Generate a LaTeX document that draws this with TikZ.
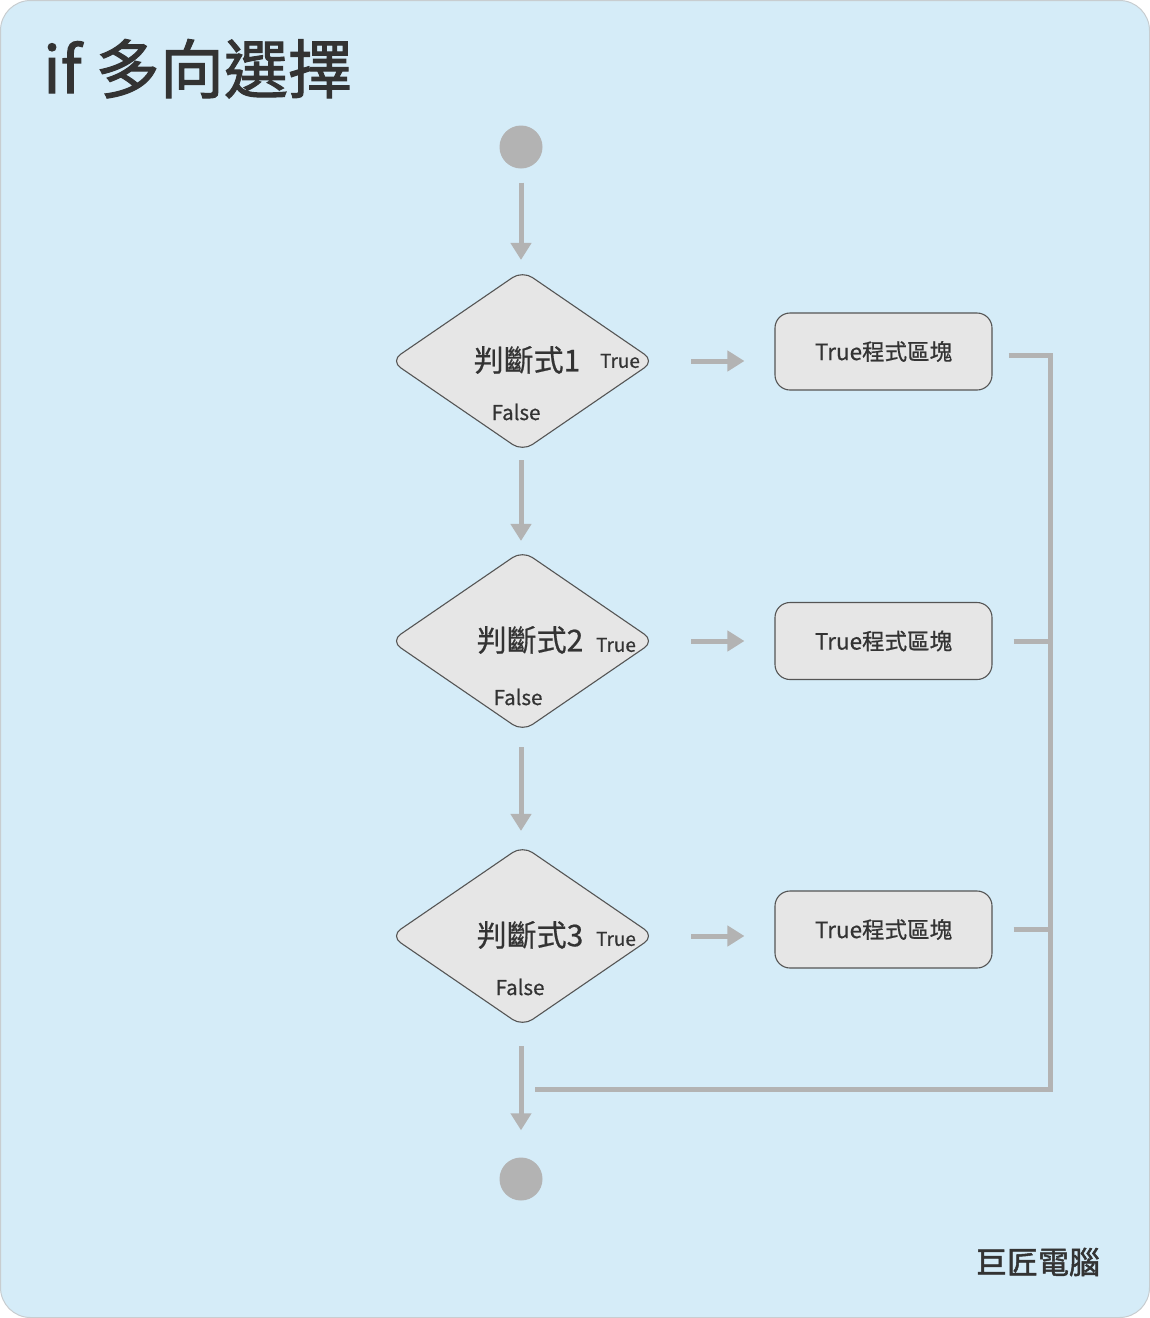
\documentclass[tikz,border=0pt]{standalone}
\usepackage{fontspec}
\setmainfont{Noto Sans CJK TC}[FakeBold=0.6]
\newfontfamily\heavyfont{Noto Sans CJK TC}[FakeBold=1.6]
\usetikzlibrary{shapes.geometric,arrows.meta}
\definecolor{bgblue}{HTML}{D5ECF8}
\definecolor{frame}{HTML}{C8CDD0}
\definecolor{shapefill}{HTML}{E6E6E6}
\definecolor{shapeline}{HTML}{555555}
\definecolor{conn}{HTML}{B3B3B3}
\definecolor{txt}{HTML}{333333}
\begin{document}
\begin{tikzpicture}[x=1pt,y=-1pt,
  dia/.style={diamond,draw=shapeline,fill=shapefill,line width=1.1pt,minimum width=264pt,minimum height=181pt,inner sep=0pt,rounded corners=12pt},
  blockbox/.style={draw=shapeline,fill=shapefill,line width=1.1pt,minimum width=217pt,minimum height=77pt,rounded corners=15pt,inner sep=0pt,text=txt,font=\fontsize{22.5pt}{26pt}\selectfont},
  dot/.style={circle,fill=conn,minimum size=43pt,inner sep=0pt},
  flow/.style={draw=conn,line width=5pt,-{Triangle[width=20pt,length=17pt]}},
  rail/.style={draw=conn,line width=5pt},
  condtext/.style={text=txt,font=\fontsize{30pt}{34pt}\selectfont,inner sep=0pt},
  truetext/.style={text=txt,font=\fontsize{19pt}{22pt}\selectfont,inner sep=0pt},
  falsetext/.style={text=txt,font=\fontsize{20.5pt}{24pt}\selectfont,inner sep=0pt}
]
\useasboundingbox (0,0) rectangle (1150,1318);
\draw[fill=bgblue,draw=frame,line width=1pt,rounded corners=30pt] (0.5,0.5) rectangle (1149.5,1317.5);

\node[text=txt,font=\heavyfont\fontsize{64pt}{70pt}\selectfont,anchor=base west,inner sep=0pt] (title) at (43,93) {if 多向選擇};
\node[text=txt,font=\heavyfont\fontsize{31pt}{34pt}\selectfont,inner sep=0pt] (brand) at (1038,1262) {巨匠電腦};

\node[dot] (start) at (521,147) {};
\node[dot] (stop) at (521,1179) {};

\node[dia] (d1) at (522.5,361) {};
\node[dia] (d2) at (522.5,641) {};
\node[dia] (d3) at (522.5,936) {};

\node[condtext] (c1) at (527,360) {判斷式1};
\node[truetext] (t1) at (620,361) {True};
\node[falsetext] (f1) at (516,412) {False};
\node[condtext] (c2) at (530,640) {判斷式2};
\node[truetext] (t2) at (616,645) {True};
\node[falsetext] (f2) at (518,697) {False};
\node[condtext] (c3) at (530,935) {判斷式3};
\node[truetext] (t3) at (616,939) {True};
\node[falsetext] (f3) at (520,987) {False};

\node[blockbox] (b1) at (883.5,351.5) {True程式區塊};
\node[blockbox] (b2) at (883.5,641) {True程式區塊};
\node[blockbox] (b3) at (883.5,929.5) {True程式區塊};

\draw[flow,shorten <=14pt,shorten >=10pt] (start) -- (d1.north -| start);
\draw[flow,shorten <=8pt,shorten >=9pt] (d1.south -| start) -- (d2.north -| start);
\draw[flow,shorten <=15pt,shorten >=14pt] (d2.south -| start) -- (d3.north -| start);
\draw[flow,shorten <=19pt,shorten >=27pt] (d3.south -| start) -- (stop);

\draw[flow,shorten <=36pt,shorten >=30pt] (d1.east) -- (d1.east -| b1.west);
\draw[flow,shorten <=36pt,shorten >=30pt] (d2.east) -- (b2.west);
\draw[flow,shorten <=36pt,shorten >=30pt] (d3.east) -- (d3.east -| b3.west);

\coordinate (corner) at (1050,1089);
\coordinate (join) at (535,1089);
\draw[rail] ([xshift=16pt,yshift=-3.5pt]b1.east) -| (corner) -- (join);
\draw[rail] ([xshift=21pt]b2.east) -- (b2.east -| corner);
\draw[rail] ([xshift=21pt]b3.east) -- (b3.east -| corner);
\end{tikzpicture}
\end{document}
